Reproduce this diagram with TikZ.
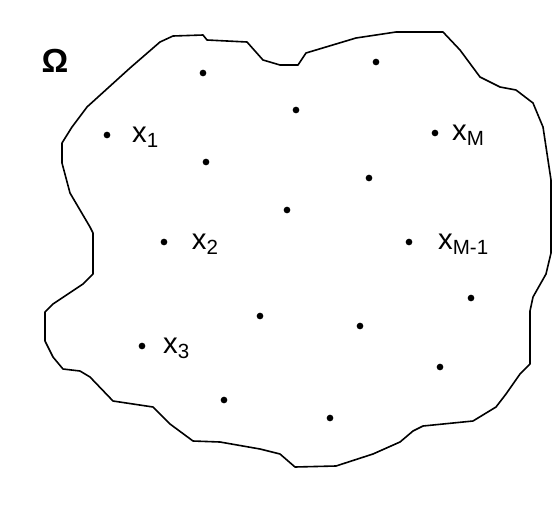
\documentclass[tikz,border=0pt]{standalone}
\usepackage{fontspec}
\setmainfont{Liberation Sans}
\usetikzlibrary{positioning}

\begin{document}
\begin{tikzpicture}[
    x=0.75pt, y=-0.75pt,
    node distance = 16pt,
    pt_dot/.style = {circle, fill=black, inner sep=0pt, minimum size=5pt},
    pt_label/.style = {inner sep=0pt, text depth=0pt, font=\fontsize{22}{24}\selectfont},
    omega_label/.style = {inner sep=0pt, font=\fontsize{25}{27}\selectfont\bfseries},
    boundary/.style = {draw=black, line width=1.2pt, line join=round}
]
\useasboundingbox (0,0) rectangle (553,514);

% --- Mien Omega ---
\draw[boundary] (62,163) -- (62,143) -- (72,127) -- (87,107) -- (130,68) -- (160,42)
    -- (173,36) -- (203,35) -- (207,40) -- (247,42) -- (263,60) -- (280,65) -- (298,65)
    -- (306,53) -- (356,38) -- (396,32) -- (443,32) -- (460,50) -- (480,77) -- (500,87)
    -- (516,90) -- (533,103) -- (543,127) -- (551,180) -- (551,253) -- (546,274)
    -- (533,297) -- (530,311) -- (530,364) -- (520,374) -- (506,394) -- (496,407)
    -- (473,421) -- (423,426) -- (413,431) -- (400,442) -- (373,454) -- (336,466)
    -- (295,467) -- (280,454) -- (260,449) -- (220,442) -- (193,441) -- (170,424)
    -- (153,407) -- (113,401) -- (90,377) -- (80,371) -- (63,369) -- (53,357)
    -- (45,341) -- (45,312) -- (53,304) -- (83,284) -- (93,274) -- (93,253)
    -- (93,233) -- (90,227) -- (70,193) -- cycle;
\node[omega_label] (omega) at (55,61) {Ω};

% --- Cac diem co ten ---
\node[pt_dot] (p1) at (107,135) {};
\node[pt_dot] (p2) at (164,242) {};
\node[pt_dot] (p3) at (142,346) {};
\node[pt_dot] (pM) at (435,133) {};
\node[pt_dot] (pM1) at (409,242) {};

\node[pt_label, right=16pt of p1] (x1) {x\textsubscript{1}};
\node[pt_label, right=18pt of p2] (x2) {x\textsubscript{2}};
\node[pt_label, right=13pt of p3] (x3) {x\textsubscript{3}};
\node[pt_label, right=10pt of pM] (xM) {x\textsubscript{M}};
\node[pt_label, right=19pt of pM1] (xM1) {x\textsubscript{M-1}};

% --- Cac diem con lai ---
\node[pt_dot] (q1) at (203,73) {};
\node[pt_dot] (q2) at (376,62) {};
\node[pt_dot] (q3) at (296,110) {};
\node[pt_dot] (q4) at (206,162) {};
\node[pt_dot] (q5) at (369,178) {};
\node[pt_dot] (q6) at (287,210) {};
\node[pt_dot] (q7) at (471,298) {};
\node[pt_dot] (q8) at (260,316) {};
\node[pt_dot] (q9) at (360,326) {};
\node[pt_dot] (q10) at (440,367) {};
\node[pt_dot] (q11) at (224,400) {};
\node[pt_dot] (q12) at (330,418) {};

\end{tikzpicture}
\end{document}
